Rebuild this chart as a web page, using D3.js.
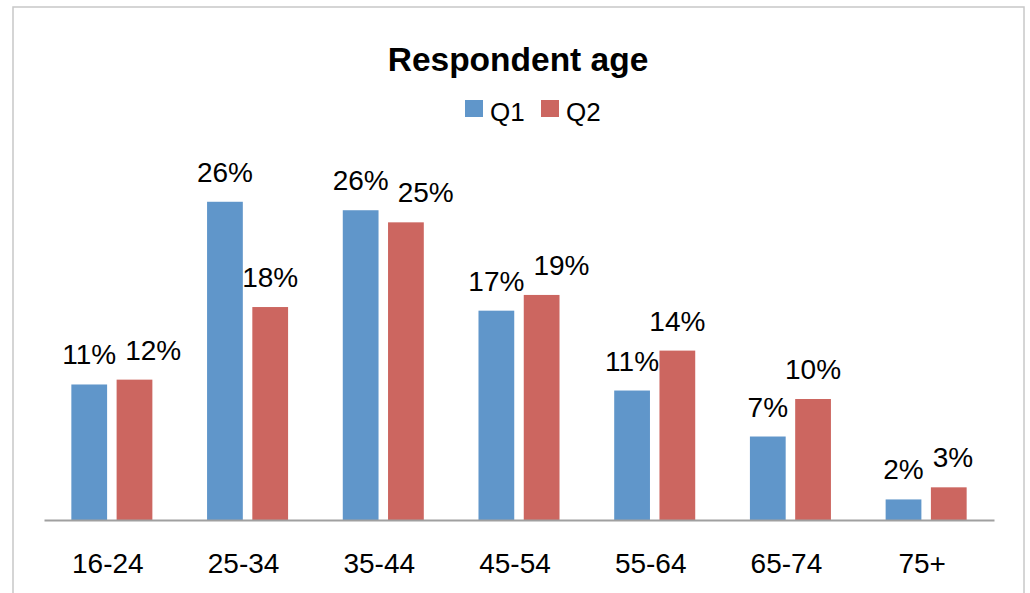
<!DOCTYPE html>
<html>
<head>
<meta charset="utf-8">
<script src="https://cdn.jsdelivr.net/npm/d3@7"></script>
<style>
    body { margin: 0; background: #fff; }
    svg { display: block; }
</style>
</head>
<body>
<div id="chart"></div>
<script>
// Chart data
const ageGroups = ["16-24", "25-34", "35-44", "45-54", "55-64", "65-74", "75+"];
const seriesNames = ["Q1", "Q2"];
const q1Values = [11.2, 26.3, 25.6, 17.3, 10.7, 6.9, 1.7];
const q2Values = [11.6, 17.6, 24.6, 18.6, 14.0, 10.0, 2.7];
const chartTitle = "Respondent age";

const width = 1030, height = 593;
const font = "'Liberation Sans', Arial, sans-serif";
const colors = { Q1: "#6096ca", Q2: "#cc6660" };

const svg = d3.select("#chart").append("svg")
    .attr("width", width)
    .attr("height", height);

// Chart area border
svg.append("rect")
    .attr("x", 13)
    .attr("y", 7)
    .attr("width", 1011)
    .attr("height", 600)
    .attr("fill", "none")
    .attr("stroke", "#c8c8c8")
    .attr("stroke-width", 1.5);

const data = ageGroups.map((g, i) => ({ group: g, Q1: q1Values[i], Q2: q2Values[i] }));

const x = d3.scaleBand()
    .domain(ageGroups)
    .range([44, 994])
    .paddingInner(0.403)
    .paddingOuter(0.2015);

const xSub = d3.scaleBand()
    .domain(seriesNames)
    .range([0, x.bandwidth()])
    .paddingInner(0.21);

const y = d3.scaleLinear()
    .domain([0, 30])
    .range([520, 157]);

// Title
svg.append("text")
    .attr("x", 518)
    .attr("y", 71)
    .attr("text-anchor", "middle")
    .style("font-family", font)
    .style("font-size", "33.5px")
    .style("font-weight", "bold")
    .text(chartTitle);

// Legend
const legend = svg.append("g");
const legendX = [465, 541];
seriesNames.forEach((s, i) => {
    legend.append("rect")
        .attr("x", legendX[i])
        .attr("y", 100)
        .attr("width", 18)
        .attr("height", 17)
        .attr("fill", colors[s]);
    legend.append("text")
        .attr("x", legendX[i] + 25)
        .attr("y", 121)
        .style("font-family", font)
        .style("font-size", "26px")
        .text(s);
});

// Bars
const groups = svg.append("g")
    .selectAll("g")
    .data(data)
    .enter()
    .append("g")
    .attr("transform", d => `translate(${x(d.group)},0)`);

groups.selectAll("rect")
    .data(d => seriesNames.map(s => ({ key: s, value: d[s] })))
    .enter()
    .append("rect")
    .attr("x", d => xSub(d.key))
    .attr("y", d => y(d.value))
    .attr("width", xSub.bandwidth())
    .attr("height", d => y(0) - y(d.value))
    .attr("fill", d => colors[d.key]);

// Data labels
groups.each(function () {
    const labels = d3.select(this).selectAll("text")
        .data(d => seriesNames.map(s => ({ key: s, value: d[s] })))
        .enter()
        .append("text")
        .attr("x", d => xSub(d.key) + xSub.bandwidth() / 2)
        .attr("y", d => y(d.value) - 20)
        .attr("text-anchor", "middle")
        .style("font-family", font)
        .style("font-size", "28px")
        .text(d => Math.round(d.value) + "%");

    // push the Q2 label right if it collides with the Q1 label
    const nodes = labels.nodes();
    const a = nodes[0].getBBox(), b = nodes[1].getBBox();
    const vOverlap = Math.abs(a.y - b.y) < a.height * 0.8;
    const gap = b.x - (a.x + a.width);
    if (vOverlap && gap < 9) {
        d3.select(nodes[1]).attr("x", +d3.select(nodes[1]).attr("x") + (9 - gap));
    }
});

// X axis
const xAxis = d3.axisBottom(x)
    .tickSize(0)
    .tickPadding(0);

const axisG = svg.append("g")
    .attr("transform", `translate(0,${y(0)})`)
    .call(xAxis);

axisG.select(".domain")
    .attr("stroke", "#a0a0a0")
    .attr("stroke-width", 2);

axisG.selectAll("text")
    .attr("y", 53)
    .attr("dy", 0)
    .attr("dx", -4)
    .style("font-family", font)
    .style("font-size", "28px")
    .style("fill", "#000");
</script>
</body>
</html>
